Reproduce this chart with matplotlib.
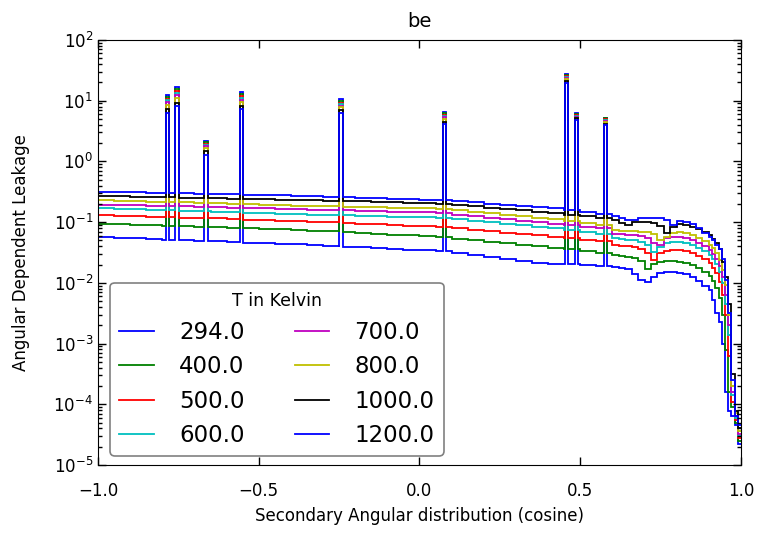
import numpy as np
import matplotlib
matplotlib.use("Agg")
import matplotlib.pyplot as plt

# temperatures (legend) and classic single-letter colours
temps = ["294.0", "400.0", "500.0", "600.0", "700.0", "800.0", "1000.0", "1200.0"]
colors = ["b", "g", "r", "c", "m", "y", "k", "b"]

# bin edges of the smooth part: 0.05 wide up to 0.6, 0.02 up to 0.9, 0.01 up to 1.0
base_edges = np.concatenate([np.linspace(-1.0, 0.6, 33),
                             np.linspace(0.62, 0.9, 15),
                             np.linspace(0.91, 1.0, 10)])

# leakage per bin, one list per temperature (57 bins)
leak_294 = [0.0565, 0.0552, 0.0541, 0.0528, 0.0516, 0.0506, 0.0494, 0.0483, 0.0473, 0.0462,
            0.0452, 0.0443, 0.0433, 0.0421, 0.0408, 0.0397, 0.0385, 0.0374, 0.0363, 0.0353,
            0.0343, 0.0329, 0.0307, 0.0286, 0.0267, 0.0248, 0.0232, 0.0216, 0.0207, 0.0201,
            0.0197, 0.0192,
            0.0185, 0.0177, 0.0169, 0.0141, 0.0112, 0.0102, 0.0126, 0.0143, 0.0149, 0.0149,
            0.0147, 0.0140, 0.0126, 0.0107, 0.00897,
            0.00762, 0.00525, 0.00316, 0.00224, 0.0010, 1.6e-4, 7.9e-5, 6.3e-5, 4.5e-5, 2.2e-5]
leak_400 = [0.0948, 0.0931, 0.0912, 0.0893, 0.0875, 0.0857, 0.0841, 0.0824, 0.0807, 0.0791,
            0.0774, 0.0760, 0.0745, 0.0724, 0.0703, 0.0682, 0.0662, 0.0644, 0.0625, 0.0607,
            0.0589, 0.0569, 0.0537, 0.0507, 0.0479, 0.0452, 0.0428, 0.0404, 0.0379, 0.0355,
            0.0332, 0.0311,
            0.0287, 0.0280, 0.0270, 0.0259, 0.0229, 0.0169, 0.0201, 0.0223, 0.0229, 0.0229,
            0.0223, 0.0212, 0.0196, 0.0177, 0.0152,
            0.0131, 0.0107, 0.0081, 0.00555, 0.00295, 7.9e-4, 1.6e-4, 8.9e-5, 5.0e-5, 2.5e-5]
leak_500 = [0.130, 0.128, 0.126, 0.123, 0.121, 0.119, 0.117, 0.115, 0.112, 0.110,
            0.108, 0.106, 0.105, 0.102, 0.0995, 0.0973, 0.0948, 0.0925, 0.0902, 0.0879,
            0.0857, 0.0832, 0.0789, 0.0748, 0.0710, 0.0671, 0.0637, 0.0604, 0.0571, 0.0540,
            0.0509, 0.0481,
            0.0420, 0.0409, 0.0399, 0.0384, 0.0361, 0.0305, 0.0238, 0.0305, 0.0338, 0.0343,
            0.0343, 0.0330, 0.0305, 0.0277, 0.0244,
            0.0209, 0.0177, 0.0143, 0.0104, 0.0063, 0.00295, 6.3e-4, 1.1e-4, 5.6e-5, 2.8e-5]
leak_600 = [0.168, 0.165, 0.162, 0.159, 0.156, 0.153, 0.151, 0.148, 0.145, 0.143,
            0.140, 0.137, 0.135, 0.133, 0.131, 0.129, 0.127, 0.125, 0.123, 0.122,
            0.120, 0.117, 0.111, 0.105, 0.0991, 0.0938, 0.0887, 0.0839, 0.0789, 0.0733,
            0.0682, 0.0635,
            0.0541, 0.0527, 0.0514, 0.0501, 0.0476, 0.0420, 0.0326, 0.0394, 0.0447, 0.0465,
            0.0465, 0.0447, 0.0420, 0.0379, 0.0334,
            0.0288, 0.0247, 0.0201, 0.0152, 0.00977, 0.00457, 0.00138, 1.4e-4, 6.0e-5, 3.0e-5]
leak_700 = [0.195, 0.192, 0.190, 0.187, 0.184, 0.181, 0.179, 0.176, 0.173, 0.171,
            0.168, 0.166, 0.163, 0.161, 0.158, 0.156, 0.153, 0.151, 0.149, 0.147,
            0.145, 0.141, 0.133, 0.126, 0.119, 0.112, 0.106, 0.100, 0.0946, 0.0891,
            0.0841, 0.0793,
            0.0637, 0.0628, 0.0614, 0.0614, 0.0598, 0.0555, 0.0457, 0.0427, 0.0541, 0.0561,
            0.0561, 0.0541, 0.0507, 0.0458, 0.0404,
            0.0347, 0.0298, 0.0247, 0.0191, 0.0126, 0.0063, 0.0020, 1.6e-4, 6.3e-5, 3.3e-5]
leak_800 = [0.230, 0.226, 0.222, 0.218, 0.215, 0.211, 0.207, 0.204, 0.200, 0.197,
            0.194, 0.190, 0.187, 0.185, 0.182, 0.180, 0.178, 0.176, 0.174, 0.172,
            0.170, 0.167, 0.157, 0.149, 0.141, 0.133, 0.125, 0.119, 0.111, 0.104,
            0.0966, 0.0902,
            0.0741, 0.0723, 0.0713, 0.0713, 0.0695, 0.0678, 0.0628, 0.0507, 0.0575, 0.0670,
            0.0678, 0.0653, 0.0614, 0.0555, 0.0489,
            0.0420, 0.0370, 0.0305, 0.0238, 0.0162, 0.00912, 0.00295, 2.0e-4, 7.1e-5, 3.6e-5]
leak_1000 = [0.271, 0.268, 0.264, 0.261, 0.258, 0.254, 0.251, 0.248, 0.244, 0.241,
             0.238, 0.235, 0.232, 0.229, 0.225, 0.222, 0.219, 0.216, 0.212, 0.209,
             0.207, 0.202, 0.192, 0.182, 0.173, 0.164, 0.156, 0.148, 0.141, 0.133,
             0.126, 0.119,
             0.108, 0.0955, 0.0895, 0.1016, 0.1016, 0.1016, 0.0980, 0.0873, 0.0653, 0.0841,
             0.0918, 0.0895, 0.0841, 0.0769, 0.0678,
             0.0617, 0.0537, 0.0447, 0.0355, 0.0224, 0.0126, 0.00447, 3.2e-4, 7.9e-5, 4.0e-5]
leak_1200 = [0.315, 0.312, 0.308, 0.304, 0.301, 0.297, 0.293, 0.290, 0.286, 0.282,
             0.279, 0.275, 0.272, 0.267, 0.262, 0.258, 0.253, 0.248, 0.244, 0.239,
             0.234, 0.229, 0.220, 0.211, 0.202, 0.194, 0.186, 0.178, 0.168, 0.156,
             0.146, 0.136,
             0.128, 0.118, 0.108, 0.108, 0.115, 0.118, 0.118, 0.115, 0.108, 0.0895,
             0.106, 0.102, 0.0918, 0.0789, 0.0653,
             0.0575, 0.0501, 0.0427, 0.0355, 0.0251, 0.0112, 0.0032, 2.5e-4, 6.3e-5, 4.5e-5]

# narrow resonance spikes: centre cosine, and peak per temperature (294 ... 1200)
spike_pos = [-0.784, -0.754, -0.664, -0.553, -0.244, 0.077, 0.458, 0.488, 0.578]
spike_width = 0.01
spike_vals = [
    [12.3, 11.5, 10.8, 10.1, 9.4, 8.6, 7.2, 6.3],
    [16.6, 15.5, 14.5, 13.4, 12.4, 11.2, 9.3, 8.2],
    [2.14, 2.05, 1.96, 1.87, 1.77, 1.67, 1.48, 1.27],
    [13.7, 12.8, 11.9, 11.1, 10.3, 9.5, 8.2, 7.2],
    [10.5, 9.9, 9.3, 8.8, 8.3, 7.8, 7.0, 6.3],
    [6.5, 6.2, 5.9, 5.6, 5.3, 5.0, 4.5, 4.2],
    [27.2, 26.2, 25.3, 24.4, 23.5, 22.6, 21.1, 19.4],
    [6.2, 6.0, 5.8, 5.6, 5.4, 5.25, 5.1, 4.8],
    [5.25, 5.1, 4.95, 4.8, 4.6, 4.45, 4.2, 4.0],
]

series = [leak_294, leak_400, leak_500, leak_600, leak_700, leak_800, leak_1000, leak_1200]

# merge spike bins into the grid
sp = np.array(spike_pos)
edges = np.unique(np.round(np.concatenate([base_edges, sp - spike_width / 2,
                                           sp + spike_width / 2]), 5))
mids = (edges[:-1] + edges[1:]) / 2
base_idx = np.searchsorted(base_edges, mids) - 1

fig = plt.figure(figsize=(7.63, 5.34), dpi=100)
ax = fig.add_axes([0.1284, 0.1292, 0.8428, 0.7959])

for i, (vals, t, c) in enumerate(zip(series, temps, colors)):
    y = np.array(vals)[base_idx]
    for j, pos in enumerate(spike_pos):
        y[np.abs(mids - pos) < spike_width / 2] = spike_vals[j][i]
    ax.stairs(y, edges, baseline=None, color=c, lw=1.3, label=t)

ax.set_yscale("log")
ax.set_xlim(-1, 1)
ax.set_ylim(1e-5, 1e2)
ax.set_xticks([-1.0, -0.5, 0.0, 0.5, 1.0])
ax.tick_params(which="both", direction="in", top=True, right=True, labelsize=12)
ax.tick_params(which="major", length=5.5, width=1)
ax.tick_params(which="minor", length=3, width=1)
ax.tick_params(axis="x", pad=12.5)
ax.set_title("be", fontsize=14, pad=9.5)
ax.set_xlabel("Secondary Angular distribution (cosine)", fontsize=12, labelpad=5)
ax.set_ylabel("Angular Dependent Leakage", fontsize=12, labelpad=17)

leg = ax.legend(ncol=2, title="T in Kelvin", fontsize=16.5, title_fontsize=12.5,
                loc="lower left", bbox_to_anchor=(0.019, 0.021), borderaxespad=0,
                fancybox=True, edgecolor="0.5", framealpha=1, handlelength=1.5,
                handletextpad=1.1, columnspacing=2.2, labelspacing=0.49)
leg.get_frame().set_linewidth(1.2)

fig.savefig("out.png", dpi=100)
